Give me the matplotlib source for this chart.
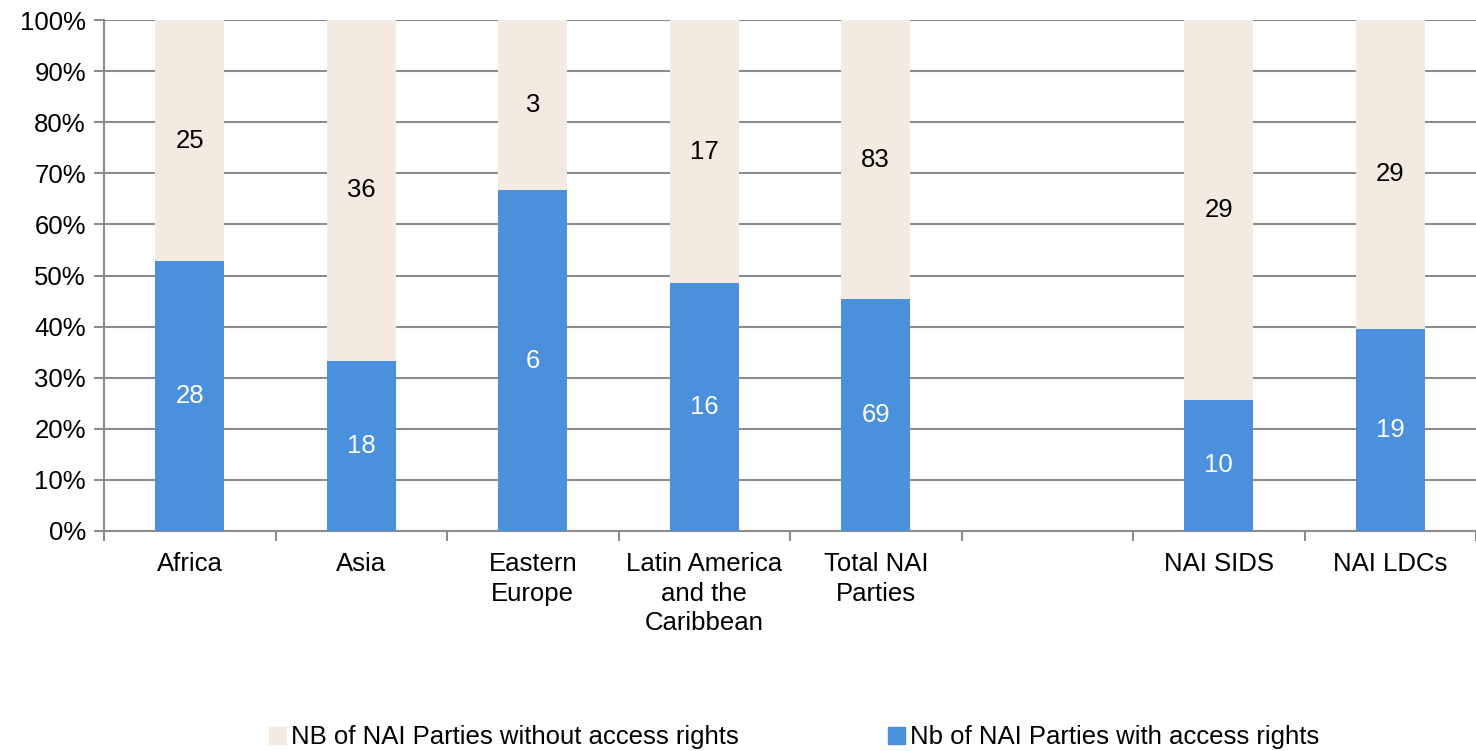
import numpy as np
import matplotlib.pyplot as plt
from matplotlib.patches import Patch

plt.rcParams['font.family'] = ['Liberation Sans', 'DejaVu Sans']

# data
categories = ["Africa", "Asia", "Eastern\nEurope", "Latin America\nand the\nCaribbean",
              "Total NAI\nParties", "", "NAI SIDS", "NAI LDCs"]
with_access = [28, 18, 6, 16, 69, 0, 10, 19]
without_access = [25, 36, 3, 17, 83, 0, 29, 29]

blue = "#4A90DC"
beige = "#F3EBE2"
grid_c = "#8C8C8C"
fs = 18.5

w = np.array(with_access, dtype=float)
wo = np.array(without_access, dtype=float)
tot = w + wo
mask = tot > 0
share_w = np.where(mask, w / np.where(mask, tot, 1), 0)
share_wo = np.where(mask, wo / np.where(mask, tot, 1), 0)

fig = plt.figure(figsize=(14.76, 7.51), dpi=100)
ax = fig.add_axes([104 / 1476, 1 - 531 / 751, 1 - 104 / 1476, (531 - 20) / 751])

x = np.arange(len(categories))
ax.bar(x[mask], share_w[mask], width=0.4, color=blue, zorder=3)
ax.bar(x[mask], share_wo[mask], width=0.4, bottom=share_w[mask], color=beige, zorder=3)

for i in x[mask]:
    ax.text(i, share_w[i] / 2, str(with_access[i]), ha='center', va='center',
            color='white', fontsize=fs, zorder=4)
    ax.text(i, share_w[i] + share_wo[i] / 2, str(without_access[i]), ha='center', va='center',
            color='black', fontsize=fs, zorder=4)

ax.set_xlim(-0.5, len(categories) - 0.5)
ax.set_ylim(0, 1)
ax.set_yticks(np.arange(0, 1.01, 0.1))
ax.set_yticklabels([f"{int(round(v * 100))}%" for v in np.arange(0, 1.01, 0.1)], fontsize=fs)
ax.yaxis.grid(True, color=grid_c, linewidth=1.5, zorder=0)

ax.set_xticks(x)
ax.set_xticklabels(categories, fontsize=fs, linespacing=1.3)
ax.set_xticks(np.arange(-0.5, len(categories)), minor=True)
ax.tick_params(axis='x', which='major', length=0, pad=15)
ax.tick_params(axis='x', which='minor', length=7, color=grid_c, width=1.5)
ax.tick_params(axis='y', length=7, color=grid_c, width=1.5, pad=6)

for s in ['top', 'right']:
    ax.spines[s].set_visible(False)
for s in ['left', 'bottom']:
    ax.spines[s].set_color(grid_c)
    ax.spines[s].set_linewidth(1.5)

handles = [Patch(color=beige), Patch(color=blue)]
labels = ["NB of NAI Parties without access rights", "Nb of NAI Parties with access rights"]
fig.legend(handles, labels, loc='center', bbox_to_anchor=(0.538, 0.018), ncol=2, frameon=False,
           fontsize=fs, handlelength=0.65, handleheight=0.65, handletextpad=0.2, columnspacing=5.8)

fig.savefig("out.png", dpi=100)
